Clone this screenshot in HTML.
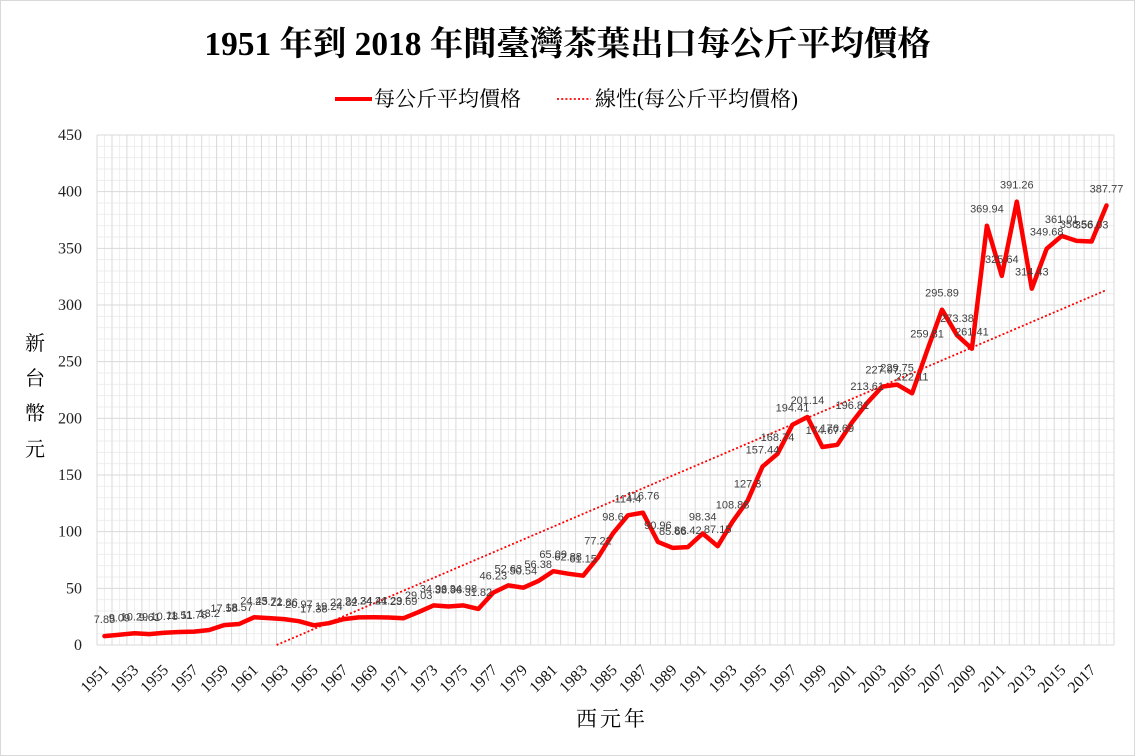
<!DOCTYPE html>
<html><head><meta charset="utf-8">
<style>
html,body{margin:0;padding:0;background:#fff;}
svg{display:block;}
.dl{font-family:"Liberation Sans","DejaVu Sans",sans-serif;font-size:11px;fill:#404040;text-anchor:middle;}
.yt{font-family:"Liberation Serif",serif;font-size:16px;fill:#222;text-anchor:end;}
.xt{font-family:"Liberation Serif",serif;font-size:16px;fill:#111;text-anchor:end;}
.cjk{font-family:"Liberation Serif","Noto Serif CJK SC","Noto Sans CJK TC",serif;fill:#000;}
</style></head>
<body>
<svg width="1135" height="756" viewBox="0 0 1135 756" xmlns="http://www.w3.org/2000/svg">
<rect x="0.5" y="0.5" width="1134" height="755" fill="#fff" stroke="#d9d9d9" stroke-width="1"/>

<text class="cjk" x="567.5" y="55" text-anchor="middle" font-size="33.4" font-weight="bold">1951 年到 2018 年間臺灣茶葉出口每公斤平均價格</text>

<line x1="335" y1="99" x2="372" y2="99" stroke="#ff0000" stroke-width="4"/>
<text class="cjk" x="374" y="106" font-size="21">每公斤平均價格</text>
<line x1="557" y1="99" x2="591" y2="99" stroke="#ff0000" stroke-width="1.8" stroke-dasharray="2 2.2"/>
<text class="cjk" x="595" y="106" font-size="21">線性(每公斤平均價格)</text>

<!-- minor grid -->
<path fill="none" stroke="#eeeeee" stroke-width="1" d="
M97 633.67H1114M97 622.33H1114M97 611H1114M97 599.67H1114
M97 577H1114M97 565.67H1114M97 554.33H1114M97 543H1114
M97 520.33H1114M97 509H1114M97 497.67H1114M97 486.33H1114
M97 463.67H1114M97 452.33H1114M97 441H1114M97 429.67H1114
M97 407H1114M97 395.67H1114M97 384.33H1114M97 373H1114
M97 350.33H1114M97 339H1114M97 327.67H1114M97 316.33H1114
M97 293.67H1114M97 282.33H1114M97 271H1114M97 259.67H1114
M97 237H1114M97 225.67H1114M97 214.33H1114M97 203H1114
M97 180.33H1114M97 169H1114M97 157.67H1114M97 146.33H1114
M104.5 135V645M119.4 135V645M134.4 135V645M149.3 135V645M164.3 135V645M179.3 135V645M194.2 135V645M209.2 135V645M224.1 135V645M239.1 135V645
M254 135V645M269 135V645M284 135V645M298.9 135V645M313.9 135V645M328.8 135V645M343.8 135V645M358.7 135V645M373.7 135V645M388.6 135V645
M403.6 135V645M418.6 135V645M433.5 135V645M448.5 135V645M463.4 135V645M478.4 135V645M493.3 135V645M508.3 135V645M523.3 135V645M538.2 135V645
M553.2 135V645M568.1 135V645M583.1 135V645M598 135V645M613 135V645M627.9 135V645M642.9 135V645M657.9 135V645M672.8 135V645M687.8 135V645
M702.7 135V645M717.7 135V645M732.6 135V645M747.6 135V645M762.5 135V645M777.5 135V645M792.5 135V645M807.4 135V645M822.4 135V645M837.3 135V645
M852.3 135V645M867.2 135V645M882.2 135V645M897.1 135V645M912.1 135V645M927.1 135V645M942 135V645M957 135V645M971.9 135V645M986.9 135V645
M1001.8 135V645M1016.8 135V645M1031.8 135V645M1046.7 135V645M1061.7 135V645M1076.6 135V645M1091.6 135V645M1106.5 135V645"/>

<!-- major grid -->
<path fill="none" stroke="#d9d9d9" stroke-width="1" d="
M97 135H1114M97 191.67H1114M97 248.33H1114M97 305H1114M97 361.67H1114M97 418.33H1114M97 475H1114M97 531.67H1114M97 588.33H1114M97 645H1114
M97 135V645M112 135V645M126.9 135V645M141.9 135V645M156.8 135V645M171.8 135V645M186.7 135V645M201.7 135V645M216.6 135V645M231.6 135V645
M246.6 135V645M261.5 135V645M276.5 135V645M291.4 135V645M306.4 135V645M321.3 135V645M336.3 135V645M351.3 135V645M366.2 135V645M381.2 135V645
M396.1 135V645M411.1 135V645M426 135V645M441 135V645M455.9 135V645M470.9 135V645M485.9 135V645M500.8 135V645M515.8 135V645M530.7 135V645
M545.7 135V645M560.6 135V645M575.6 135V645M590.5 135V645M605.5 135V645M620.5 135V645M635.4 135V645M650.4 135V645M665.3 135V645M680.3 135V645
M695.2 135V645M710.2 135V645M725.2 135V645M740.1 135V645M755.1 135V645M770 135V645M785 135V645M799.9 135V645M814.9 135V645M829.8 135V645
M844.8 135V645M859.8 135V645M874.7 135V645M889.7 135V645M904.6 135V645M919.6 135V645M934.5 135V645M949.5 135V645M964.4 135V645M979.4 135V645
M994.4 135V645M1009.3 135V645M1024.3 135V645M1039.2 135V645M1054.2 135V645M1069.1 135V645M1084.1 135V645M1099.1 135V645M1114 135V645"/>

<!-- y tick labels -->
<text class="yt" x="82" y="650">0</text>
<text class="yt" x="82" y="593.3">50</text>
<text class="yt" x="82" y="536.7">100</text>
<text class="yt" x="82" y="480">150</text>
<text class="yt" x="82" y="423.3">200</text>
<text class="yt" x="82" y="366.7">250</text>
<text class="yt" x="82" y="310">300</text>
<text class="yt" x="82" y="253.3">350</text>
<text class="yt" x="82" y="196.7">400</text>
<text class="yt" x="82" y="140">450</text>

<!-- y axis title -->
<text class="cjk" x="35" y="350" font-size="20" text-anchor="middle">新</text>
<text class="cjk" x="35" y="385" font-size="20" text-anchor="middle">台</text>
<text class="cjk" x="35" y="420" font-size="20" text-anchor="middle">幣</text>
<text class="cjk" x="35" y="456" font-size="20" text-anchor="middle">元</text>

<!-- x axis title -->
<text class="cjk" x="612" y="726" font-size="21" text-anchor="middle" letter-spacing="3">西元年</text>

<!-- x tick labels -->
<g>
<text class="xt" transform="translate(109.5,671) rotate(-45)">1951</text>
<text class="xt" transform="translate(139.4,671) rotate(-45)">1953</text>
<text class="xt" transform="translate(169.3,671) rotate(-45)">1955</text>
<text class="xt" transform="translate(199.2,671) rotate(-45)">1957</text>
<text class="xt" transform="translate(229.1,671) rotate(-45)">1959</text>
<text class="xt" transform="translate(259,671) rotate(-45)">1961</text>
<text class="xt" transform="translate(289,671) rotate(-45)">1963</text>
<text class="xt" transform="translate(318.9,671) rotate(-45)">1965</text>
<text class="xt" transform="translate(348.8,671) rotate(-45)">1967</text>
<text class="xt" transform="translate(378.7,671) rotate(-45)">1969</text>
<text class="xt" transform="translate(408.6,671) rotate(-45)">1971</text>
<text class="xt" transform="translate(438.5,671) rotate(-45)">1973</text>
<text class="xt" transform="translate(468.4,671) rotate(-45)">1975</text>
<text class="xt" transform="translate(498.3,671) rotate(-45)">1977</text>
<text class="xt" transform="translate(528.3,671) rotate(-45)">1979</text>
<text class="xt" transform="translate(558.2,671) rotate(-45)">1981</text>
<text class="xt" transform="translate(588.1,671) rotate(-45)">1983</text>
<text class="xt" transform="translate(618,671) rotate(-45)">1985</text>
<text class="xt" transform="translate(647.9,671) rotate(-45)">1987</text>
<text class="xt" transform="translate(677.8,671) rotate(-45)">1989</text>
<text class="xt" transform="translate(707.7,671) rotate(-45)">1991</text>
<text class="xt" transform="translate(737.6,671) rotate(-45)">1993</text>
<text class="xt" transform="translate(767.5,671) rotate(-45)">1995</text>
<text class="xt" transform="translate(797.5,671) rotate(-45)">1997</text>
<text class="xt" transform="translate(827.4,671) rotate(-45)">1999</text>
<text class="xt" transform="translate(857.3,671) rotate(-45)">2001</text>
<text class="xt" transform="translate(887.2,671) rotate(-45)">2003</text>
<text class="xt" transform="translate(917.1,671) rotate(-45)">2005</text>
<text class="xt" transform="translate(947,671) rotate(-45)">2007</text>
<text class="xt" transform="translate(976.9,671) rotate(-45)">2009</text>
<text class="xt" transform="translate(1006.8,671) rotate(-45)">2011</text>
<text class="xt" transform="translate(1036.8,671) rotate(-45)">2013</text>
<text class="xt" transform="translate(1066.7,671) rotate(-45)">2015</text>
<text class="xt" transform="translate(1096.6,671) rotate(-45)">2017</text>
</g>

<!-- trendline -->
<line x1="276.6" y1="645" x2="1106.5" y2="290" stroke="#ff0000" stroke-width="1.8" stroke-dasharray="2 2.2"/>

<!-- series -->
<polyline fill="none" stroke="#ff0000" stroke-width="4.5" stroke-linejoin="round" stroke-linecap="round" points="
104.5,636.1 119.4,634.7 134.4,633.3 149.3,634.1 164.3,632.8 179.3,632 194.2,631.6 209.2,630 224.1,625.1 239.1,624
254,617.3 269,618.1 284,619.1 298.9,621.2 313.9,625.3 328.8,623.2 343.8,619.1 358.7,617.4 373.7,617.3 388.6,617.5
403.6,618.2 418.6,612.1 433.5,605.4 448.5,606.5 463.4,605.4 478.4,608.9 493.3,592.6 508.3,585.4 523.3,587.7 538.2,581.1
553.2,571.2 568.1,573.7 583.1,575.7 598,557.5 613,533.3 627.9,515.3 642.9,512.7 657.9,541.9 672.8,547.9 687.8,547.1
702.7,533.5 717.7,546.2 732.6,521.6 747.6,500.7 762.5,466.6 777.5,453.8 792.5,424.7 807.4,417 822.4,447 837.3,444.8
852.3,422 867.2,402.9 882.2,386.6 897.1,384.6 912.1,393.3 927.1,350.6 942,309.7 957,335.2 971.9,348.7 986.9,225.7
1001.8,275.9 1016.8,201.6 1031.8,288.7 1046.7,248.7 1061.7,235.9 1076.6,240.9 1091.6,241.5 1106.5,205.5"/>

<!-- data labels -->
<g>
<text class="dl" x="104.5" y="623.1">7.85</text>
<text class="dl" x="119.4" y="621.7">9.09</text>
<text class="dl" x="134.4" y="620.3">10.29</text>
<text class="dl" x="149.3" y="621.1">9.61</text>
<text class="dl" x="164.3" y="619.8">10.78</text>
<text class="dl" x="179.3" y="619">11.51</text>
<text class="dl" x="194.2" y="618.6">11.78</text>
<text class="dl" x="209.2" y="617">13.2</text>
<text class="dl" x="224.1" y="612.1">17.58</text>
<text class="dl" x="239.1" y="611">18.57</text>
<text class="dl" x="254" y="604.3">24.45</text>
<text class="dl" x="269" y="605.1">23.71</text>
<text class="dl" x="284" y="606.1">22.86</text>
<text class="dl" x="298.9" y="608.2">20.97</text>
<text class="dl" x="313.9" y="612.3">17.38</text>
<text class="dl" x="328.8" y="610.2">19.24</text>
<text class="dl" x="343.8" y="606.1">22.82</text>
<text class="dl" x="358.7" y="604.4">24.34</text>
<text class="dl" x="373.7" y="604.3">24.41</text>
<text class="dl" x="388.6" y="604.5">24.29</text>
<text class="dl" x="403.6" y="605.2">23.69</text>
<text class="dl" x="418.6" y="599.1">29.03</text>
<text class="dl" x="433.5" y="592.4">34.96</text>
<text class="dl" x="448.5" y="593.5">33.96</text>
<text class="dl" x="463.4" y="592.4">34.98</text>
<text class="dl" x="478.4" y="595.9">31.82</text>
<text class="dl" x="493.3" y="579.6">46.23</text>
<text class="dl" x="508.3" y="572.4">52.63</text>
<text class="dl" x="523.3" y="574.7">50.54</text>
<text class="dl" x="538.2" y="568.1">56.38</text>
<text class="dl" x="553.2" y="558.2">65.09</text>
<text class="dl" x="568.1" y="560.7">62.88</text>
<text class="dl" x="583.1" y="562.7">61.15</text>
<text class="dl" x="598" y="544.5">77.22</text>
<text class="dl" x="613" y="520.3">98.6</text>
<text class="dl" x="627.9" y="502.3">114.4</text>
<text class="dl" x="642.9" y="499.7">116.76</text>
<text class="dl" x="657.9" y="528.9">90.96</text>
<text class="dl" x="672.8" y="534.9">85.66</text>
<text class="dl" x="687.8" y="534.1">86.42</text>
<text class="dl" x="702.7" y="520.5">98.34</text>
<text class="dl" x="717.7" y="533.2">87.15</text>
<text class="dl" x="732.6" y="508.6">108.88</text>
<text class="dl" x="747.6" y="487.7">127.3</text>
<text class="dl" x="762.5" y="453.6">157.44</text>
<text class="dl" x="777.5" y="440.8">168.74</text>
<text class="dl" x="792.5" y="411.7">194.41</text>
<text class="dl" x="807.4" y="404">201.14</text>
<text class="dl" x="822.4" y="434">174.67</text>
<text class="dl" x="837.3" y="431.8">176.69</text>
<text class="dl" x="852.3" y="409">196.81</text>
<text class="dl" x="867.2" y="389.9">213.61</text>
<text class="dl" x="882.2" y="373.6">227.97</text>
<text class="dl" x="897.1" y="371.6">229.75</text>
<text class="dl" x="912.1" y="380.3">222.11</text>
<text class="dl" x="927.1" y="337.6">259.81</text>
<text class="dl" x="942" y="296.7">295.89</text>
<text class="dl" x="957" y="322.2">273.38</text>
<text class="dl" x="971.9" y="335.7">261.41</text>
<text class="dl" x="986.9" y="212.7">369.94</text>
<text class="dl" x="1001.8" y="262.9">325.64</text>
<text class="dl" x="1016.8" y="188.6">391.26</text>
<text class="dl" x="1031.8" y="275.7">314.43</text>
<text class="dl" x="1046.7" y="235.7">349.68</text>
<text class="dl" x="1061.7" y="222.9">361.01</text>
<text class="dl" x="1076.6" y="227.9">356.56</text>
<text class="dl" x="1091.6" y="228.5">356.03</text>
<text class="dl" x="1106.5" y="192.5">387.77</text>
</g>
</svg>
</body></html>
